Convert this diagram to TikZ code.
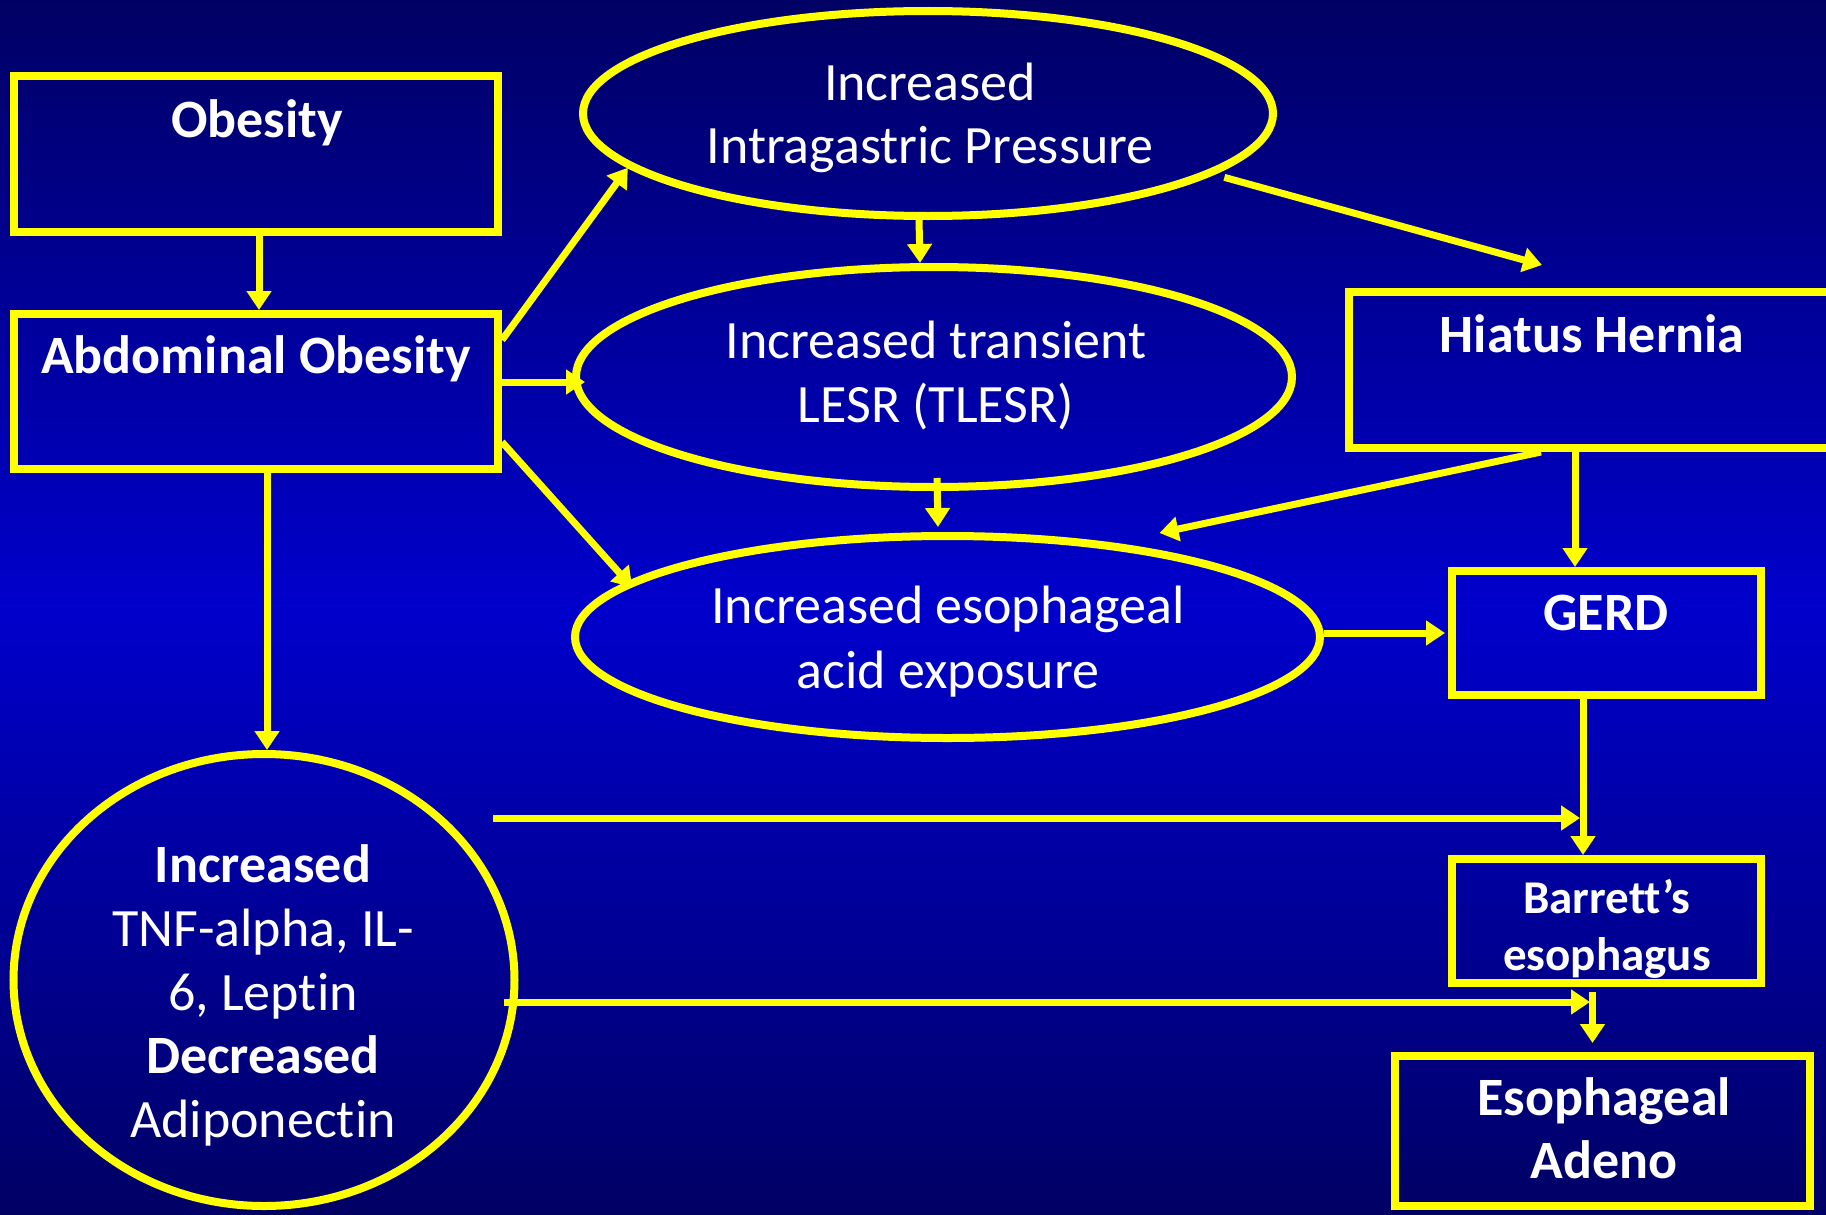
\documentclass[tikz,border=0pt]{standalone}
\usepackage{fontspec}
\setmainfont{Carlito}[Ligatures={NoCommon,NoRare,NoContextual}]
\usetikzlibrary{arrows.meta,shapes.geometric,calc}
\definecolor{bgtop}{RGB}{0,0,100}
\definecolor{bgmid}{RGB}{0,0,204}
\definecolor{bgbot}{RGB}{0,0,100}
\definecolor{ylw}{RGB}{255,255,0}
\tikzset{
  box/.style={draw=ylw, line width=8pt, rectangle, inner sep=0pt},
  oval/.style={draw=ylw, line width=8pt, ellipse, inner sep=0pt},
  txt/.style={text=white, font=\fontsize{54}{65}\selectfont, anchor=base, inner sep=0pt},
  btxt/.style={text=white, font=\fontsize{54}{65}\selectfont\bfseries, anchor=base, inner sep=0pt},
  sbtxt/.style={text=white, font=\fontsize{47}{57}\selectfont\bfseries, anchor=base, inner sep=0pt},
  arr/.style={draw=ylw, line width=7pt, -{Triangle[length=19pt,width=24pt]}}
}
\begin{document}
\begin{tikzpicture}[x=1pt,y=-1pt]
\useasboundingbox (0,0) rectangle (1826,1215);
\fill[top color=bgtop, bottom color=bgbot, middle color=bgmid] (0,0) rectangle (1826,1215);
\clip (0,0) rectangle (1826,1215);

% shapes
\node[box, minimum width=484pt, minimum height=155pt] (obes) at (256,154) {};
\node[box, minimum width=484pt, minimum height=155pt] (abd) at (256,391.5) {};
\node[box, minimum width=486pt, minimum height=156pt] (hh) at (1592,370) {};
\node[box, minimum width=309pt, minimum height=124pt] (gerd) at (1606.5,633) {};
\node[box, minimum width=309pt, minimum height=124pt] (barr) at (1606.5,921) {};
\node[box, minimum width=415pt, minimum height=150pt] (aden) at (1602.5,1131) {};
\node[oval, minimum width=690pt, minimum height=205pt] (e1) at (928,113.5) {};
\node[oval, minimum width=716pt, minimum height=220pt] (e2) at (934,377) {};
\node[oval, minimum width=745pt, minimum height=202pt] (e3) at (947.5,637) {};
\node[oval, minimum width=501pt, minimum height=452pt] (circ) at (264,980) {};

% texts
\node[btxt] (tobes) at (257,137) {Obesity};
\node[btxt] (tabd) at (256,373) {Abdominal Obesity};
\node[txt] (te1a) at (930,100) {Increased};
\node[txt] (te1b) at (930,163) {Intragastric Pressure};
\node[txt] (te2a) at (936,358) {Increased transient};
\node[txt] (te2b) at (936,422) {LESR (TLESR)};
\node[txt] (te3a) at (948,623) {Increased esophageal};
\node[txt] (te3b) at (948,688) {acid exposure};
\node[btxt] (thh) at (1592,352) {Hiatus Hernia};
\node[btxt] (tgerd) at (1606,630) {GERD};
\node[sbtxt] (tbarra) at (1607,913) {Barrett’s};
\node[sbtxt] (tbarrb) at (1607,970) {esophagus};
\node[btxt] (tadena) at (1604,1115) {Esophageal};
\node[btxt] (tadenb) at (1604,1178) {Adeno};
\node[btxt] (tca) at (263,882) {Increased};
\node[txt] (tcb) at (263,946) {TNF-alpha, IL-};
\node[txt] (tcc) at (263,1010) {6, Leptin};
\node[btxt] (tcd) at (263,1073) {Decreased};
\node[txt] (tce) at (263,1137) {Adiponectin};

% connectors
\draw[arr] ([xshift=3pt]obes.south) -- ([xshift=3pt]abd.north);
\draw[arr] ([yshift=-30pt]abd.north east) -- ($(e1.190)+(2,1)$);
\draw[arr] ($(abd.east)+(0,-9.5)$) -- ($(e2.west)+(13,5)$);
\draw[arr] ([yshift=-132pt]abd.north east) -- ($(e3.171)+(12,2)$);
\draw[arr] ([xshift=11pt]abd.south) -- ([xshift=3pt]circ.north);
\draw[arr] ([xshift=-9pt]e1.south) -- ([xshift=-14pt]e2.north);
\draw[arr] ($(e1.-12)+(10,3)$) -- ($(hh.north west)+(197,-23)$);
\draw[arr] ($(e2.south)+(3,-13)$) -- ($(e3.north)+(-9.5,-5)$);
\draw[arr] ($(hh.south west)+(196,0)$) -- ($(e3.north)+(212,1)$);
\draw[arr] ([xshift=-17pt]hh.south) -- ([xshift=-31.5pt]gerd.north);
\draw[arr] (e3.east |- gerd.west) -- ([xshift=-3pt]gerd.west);
\draw[arr] ([xshift=-23.5pt]gerd.south) -- ([xshift=-23.5pt]barr.north);
\coordinate (cfree) at (493,818);
\draw[arr] (cfree) -- ($(barr.north)+(-26.5,-37)$);
\draw[arr] ($(circ.east)+(-15,22)$) -- ($(barr.south)+(-16.5,15)$);
\draw[arr] ($(barr.south)+(-14,5)$) -- ($(aden.north)+(-10,-9)$);
\end{tikzpicture}
\end{document}
